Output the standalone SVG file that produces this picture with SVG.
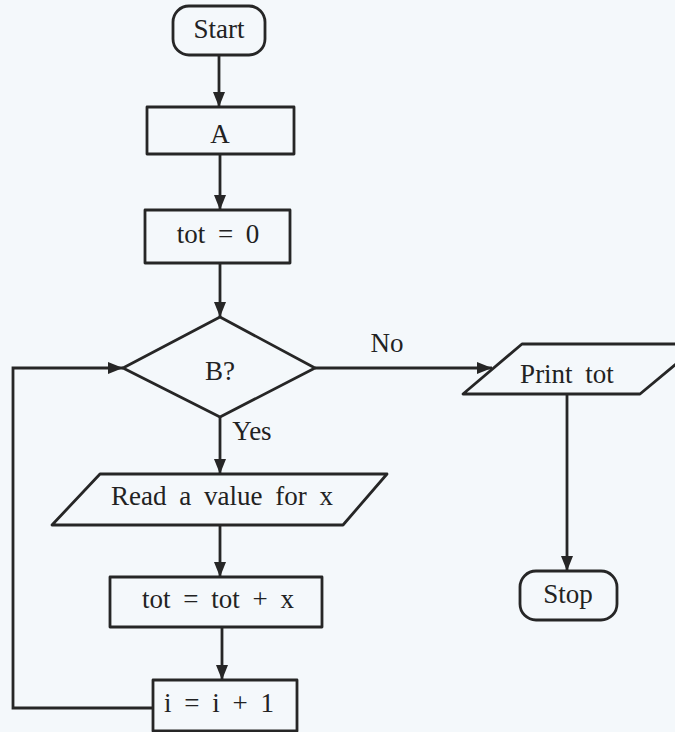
<svg xmlns="http://www.w3.org/2000/svg" width="675" height="732" viewBox="0 0 675 732">
<style>
.s{fill:none;stroke:#262626;stroke-width:2.8;stroke-linejoin:round}
.t{font-family:"Liberation Serif","Times New Roman",serif;font-size:27px;fill:#222;text-anchor:middle;word-spacing:6px}
.c{fill:none;stroke:#262626;stroke-width:2.8}
</style>
<defs>
<marker id="ah" markerUnits="userSpaceOnUse" markerWidth="17" markerHeight="13" refX="15" refY="6.5" orient="auto">
<path d="M0,0.5 L15,6.5 L0,12.5 z" fill="#262626"/>
</marker>
</defs>
<rect width="675" height="732" fill="#f4f8fb"/>
<g id="connectors">
<line class="c" x1="219" y1="55" x2="219" y2="107" marker-end="url(#ah)"/>
<line class="c" x1="220" y1="154" x2="220" y2="210" marker-end="url(#ah)"/>
<line class="c" x1="220" y1="263" x2="220" y2="317" marker-end="url(#ah)"/>
<line class="c" x1="220" y1="417" x2="220" y2="474" marker-end="url(#ah)"/>
<line class="c" x1="220" y1="525" x2="220" y2="577" marker-end="url(#ah)"/>
<line class="c" x1="222" y1="627" x2="222" y2="680" marker-end="url(#ah)"/>
<polyline class="c" points="153,708 13,708 13,368 123,368" marker-end="url(#ah)"/>
<line class="c" x1="315" y1="368" x2="492" y2="368" marker-end="url(#ah)"/>
<line class="c" x1="567" y1="394" x2="567" y2="571" marker-end="url(#ah)"/>
<text class="t" x="387" y="352">No</text>
<text class="t" x="252" y="440">Yes</text>
</g>
<g id="start">
<rect class="s" x="173" y="6" width="92" height="49" rx="16"/>
<text class="t" x="219" y="38">Start</text>
</g>
<g id="a">
<rect class="s" x="147" y="107" width="147" height="47"/>
<text class="t" x="220" y="143">A</text>
</g>
<g id="tot0">
<rect class="s" x="145" y="210" width="145" height="53"/>
<text class="t" x="218" y="243">tot = 0</text>
</g>
<g id="b">
<polygon class="s" points="220,317 315,368 220,417 123,368"/>
<text class="t" x="220" y="380">B?</text>
</g>
<g id="read">
<polygon class="s" points="100,474 387,474 343,525 52,525"/>
<text class="t" x="222" y="505">Read a value for x</text>
</g>
<g id="totx">
<rect class="s" x="110" y="577" width="212" height="50"/>
<text class="t" x="218" y="608">tot = tot + x</text>
</g>
<g id="inc">
<rect class="s" x="153" y="680" width="144" height="51"/>
<text class="t" x="219" y="712">i = i + 1</text>
</g>
<g id="print">
<polygon class="s" points="522,344 700,344 640,394 463,394"/>
<text class="t" x="567" y="383">Print tot</text>
</g>
<g id="stop">
<rect class="s" x="520" y="571" width="97" height="49" rx="16"/>
<text class="t" x="568" y="603">Stop</text>
</g>
</svg>
